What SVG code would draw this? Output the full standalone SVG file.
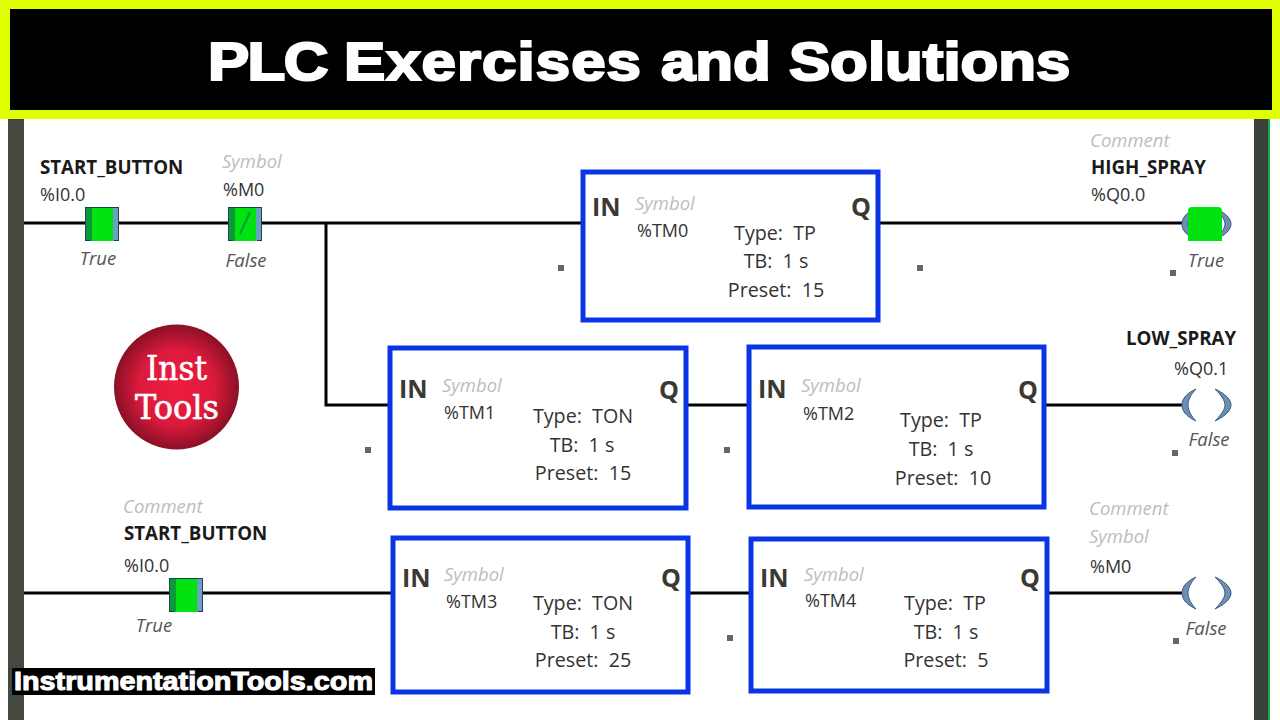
<svg xmlns="http://www.w3.org/2000/svg" width="1280" height="720" viewBox="0 0 1280 720">
<style>
text{font-family:"Open Sans","Noto Sans","DejaVu Sans",sans-serif;fill:#333}
.b{font-size:18.700px;font-weight:700;fill:#1a1a1a}
.a{font-size:18px;fill:#333}
.g{font-size:18.500px;font-style:italic;fill:#bdbdbd}
.s{font-size:18.500px;font-style:italic;fill:#555}
.p{font-size:19.700px;fill:#333;white-space:pre}
.io{font-size:25px;font-weight:700;fill:#3a3a32}
.m{text-anchor:middle}
.box{fill:#fff;stroke:#0a35e6;stroke-width:5}
.w{fill:none;stroke:#000;stroke-width:3}
.dot{fill:#666}
.coil{fill:#6b90b8;stroke:#3f5a78;stroke-width:1}
.gr{fill:#00e310}
.bl{fill:#6c9fc4}
.dg{fill:#0a9a3a}
</style>
<defs>
<radialGradient id="red" cx="50%" cy="50%" r="50%"><stop offset="0" stop-color="#ee1c40"/><stop offset="0.6" stop-color="#dc1a3c"/><stop offset="1" stop-color="#8a1026"/></radialGradient>
<g id="contact"><rect x="0" y="0" width="34" height="34" class="gr"/><rect x="0" y="0" width="7" height="34" class="dg"/><rect x="28" y="0" width="6" height="34" class="bl"/><path d="M.5 0V34M33.500 0V34" stroke="#245" stroke-width="1"/><path d="M0 .5h34M0 33.500h5M29 33.500h5" stroke="#145" stroke-width="1"/></g>
<g id="coil"><path class="coil" d="M14 1C3 6 0 12 0 17S3 28 14 33C9 28 6 22 6 17S9 6 14 1Z"/><path class="coil" d="M33 1C44 6 49 12 49 17S44 28 33 33C38 28 43 22 43 17S38 6 33 1Z"/></g>
</defs>
<rect width="1280" height="720" fill="#fff"/>
<g id="rails"><rect x="8" y="119" width="16" height="601" fill="#434840"/><rect x="1254" y="119" width="14" height="601" fill="#3a403a"/><rect x="1268" y="119" width="2" height="601" fill="#0bb04a"/></g>
<g id="connectors">
<path class="w" d="M24 223H86M119 223H229M261 223H582M880 223H1182M326 223V405H389M687 405H748M1045 405H1182M24 593H170M203 593H392M689 593H750M1049 593H1182"/>
</g>
<g id="dots"><rect class="dot" x="558" y="265" width="6" height="6"/><rect class="dot" x="917" y="265" width="6" height="6"/><rect class="dot" x="1170" y="270" width="6" height="6"/><rect class="dot" x="365" y="447" width="6" height="6"/><rect class="dot" x="724" y="447" width="6" height="6"/><rect class="dot" x="1172" y="450" width="6" height="6"/><rect class="dot" x="727" y="635" width="6" height="6"/><rect class="dot" x="1173" y="638" width="6" height="6"/></g>
<g id="contact-i00-top"><use href="#contact" x="85" y="207"/><text class="b" x="40" y="174">START_BUTTON</text><text class="a" x="40" y="201">%I0.0</text><text class="s m" x="98" y="265">True</text></g>
<g id="contact-m0"><use href="#contact" x="228" y="207"/><path d="M240 234L250 212" stroke="#0a9a3a" stroke-width="2"/><text class="g" x="222" y="168">Symbol</text><text class="a" x="223" y="196">%M0</text><text class="s m" x="246" y="267">False</text></g>
<g id="tm0"><rect class="box" x="583" y="172" width="295" height="148"/><text class="io" x="592" y="216">IN</text><text class="io" x="851" y="216">Q</text><text class="g" x="635" y="210">Symbol</text><text class="a" x="637" y="237">%TM0</text><text class="p m" x="775" y="240">Type:  TP</text><text class="p m" x="776" y="268">TB:  1 s</text><text class="p m" x="776" y="297">Preset:  15</text></g>
<g id="coil-q00"><use href="#coil" x="1182" y="207"/><path d="M1188 241V211a4 4 0 0 1 4-4h26a4 4 0 0 1 4 4V241Z" class="gr"/><text class="g" x="1090" y="147">Comment</text><text class="b" x="1091" y="174">HIGH_SPRAY</text><text class="a" x="1091" y="201">%Q0.0</text><text class="s m" x="1206" y="267">True</text></g>
<g id="logo"><circle cx="176.500" cy="387" r="62.500" fill="url(#red)"/><text x="176.500" y="380" text-anchor="middle" textLength="61" lengthAdjust="spacingAndGlyphs" style="font-family:'DejaVu Serif','Liberation Serif',serif;font-size:34px;fill:#fff;stroke:#fff;stroke-width:.6px">Inst</text><text x="177" y="419" text-anchor="middle" textLength="84" lengthAdjust="spacingAndGlyphs" style="font-family:'DejaVu Serif','Liberation Serif',serif;font-size:34px;fill:#fff;stroke:#fff;stroke-width:.6px">Tools</text></g>
<g id="tm1"><rect class="box" x="390" y="348" width="296" height="160"/><text class="io" x="399" y="398">IN</text><text class="io" x="659" y="399">Q</text><text class="g" x="442" y="392">Symbol</text><text class="a" x="444" y="419">%TM1</text><text class="p m" x="583" y="423">Type:  TON</text><text class="p m" x="582" y="452">TB:  1 s</text><text class="p m" x="583" y="480">Preset:  15</text></g>
<g id="tm2"><rect class="box" x="749" y="347" width="295" height="160"/><text class="io" x="758" y="398">IN</text><text class="io" x="1018" y="399">Q</text><text class="g" x="801" y="392">Symbol</text><text class="a" x="803" y="420">%TM2</text><text class="p m" x="941" y="427">Type:  TP</text><text class="p m" x="941" y="456">TB:  1 s</text><text class="p m" x="943" y="485">Preset:  10</text></g>
<g id="coil-q01"><use href="#coil" x="1182" y="388"/><text class="b" x="1126" y="345">LOW_SPRAY</text><text class="a" x="1174" y="375">%Q0.1</text><text class="s m" x="1209" y="446">False</text></g>
<g id="contact-i00-bottom"><use href="#contact" x="169" y="578"/><text class="g" x="123" y="513">Comment</text><text class="b" x="124" y="540">START_BUTTON</text><text class="a" x="124" y="572">%I0.0</text><text class="s m" x="154" y="632">True</text></g>
<g id="tm3"><rect class="box" x="393" y="538" width="295" height="154"/><text class="io" x="402" y="587">IN</text><text class="io" x="661" y="587">Q</text><text class="g" x="444" y="581">Symbol</text><text class="a" x="446" y="608">%TM3</text><text class="p m" x="583" y="610">Type:  TON</text><text class="p m" x="583" y="639">TB:  1 s</text><text class="p m" x="583" y="667">Preset:  25</text></g>
<g id="tm4"><rect class="box" x="751" y="539" width="296" height="152"/><text class="io" x="760" y="587">IN</text><text class="io" x="1020" y="587">Q</text><text class="g" x="804" y="581">Symbol</text><text class="a" x="805" y="607">%TM4</text><text class="p m" x="945" y="610">Type:  TP</text><text class="p m" x="946" y="639">TB:  1 s</text><text class="p m" x="946" y="667">Preset:  5</text></g>
<g id="coil-m0"><use href="#coil" x="1182" y="576"/><text class="g" x="1089" y="515">Comment</text><text class="g" x="1089" y="543">Symbol</text><text class="a" x="1090" y="573">%M0</text><text class="s m" x="1206" y="635">False</text></g>
<g id="title"><rect x="0" y="0" width="1280" height="119" fill="#e0ff00"/><rect x="10" y="9" width="1262" height="101" fill="#000"/><text transform="scale(1.145 1)" y="80" style="font-family:'Liberation Sans',Arial,sans-serif;font-size:54px;font-weight:700;fill:#fff;stroke:#fff;stroke-width:2.200px"><tspan x="181.600" letter-spacing="-1.400">PLC</tspan> <tspan x="300.400" letter-spacing=".9">Exercises</tspan> <tspan x="577.200">and</tspan> <tspan x="689">Solutions</tspan></text></g>
<g id="watermark"><rect x="12" y="668" width="363" height="27" fill="#000"/><text x="14" y="690" textLength="359" lengthAdjust="spacingAndGlyphs" style="font-family:'Liberation Sans',Arial,sans-serif;font-size:25px;font-weight:700;fill:#fff;stroke:#fff;stroke-width:1px">InstrumentationTools.com</text></g>
</svg>
